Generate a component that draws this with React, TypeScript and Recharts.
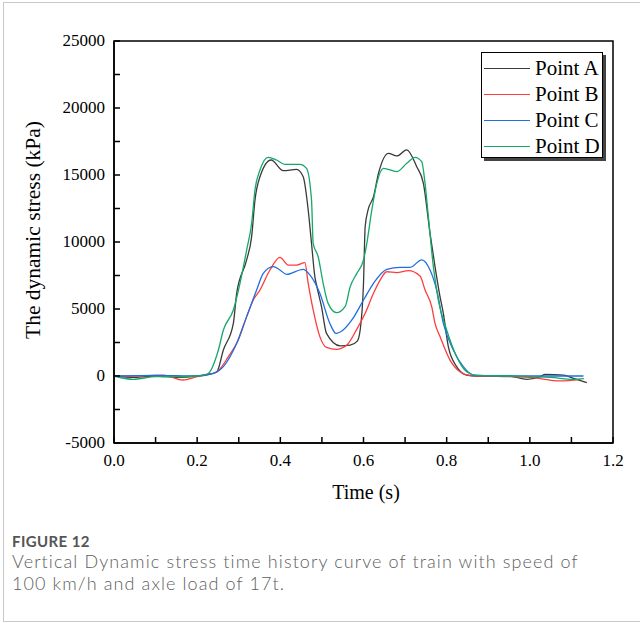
import React from "react";
import { LineChart, Line, XAxis, YAxis, ReferenceArea } from "recharts";

// Time (s) / stress (kPa), one pair of arrays per point
const timeA = [0, 0.05, 0.1, 0.15, 0.2, 0.22, 0.247, 0.263, 0.287, 0.295, 0.319, 0.331, 0.339, 0.351, 0.378, 0.407, 0.439, 0.455, 0.467, 0.475, 0.483, 0.488, 0.499, 0.511, 0.544, 0.568, 0.585, 0.592, 0.6, 0.604, 0.611, 0.624, 0.636, 0.66, 0.68, 0.704, 0.728, 0.744, 0.76, 0.772, 0.784, 0.792, 0.804, 0.824, 0.848, 0.87, 0.95, 0.993, 1.025, 1.037, 1.081, 1.105, 1.137];
const stressA = [0, -100, 0, -100, 0, 100, 300, 1940, 3930, 6170, 8660, 10400, 13130, 14870, 16120, 15320, 15420, 14870, 12390, 9900, 7410, 6660, 5170, 3180, 2250, 2300, 2600, 3430, 6920, 11140, 12390, 13380, 15120, 16620, 16420, 16870, 15620, 14380, 10650, 8160, 5920, 4680, 2190, 700, 70, 0, 0, -250, -50, 120, 70, -170, -500];

const timeB = [0, 0.05, 0.118, 0.166, 0.2, 0.225, 0.247, 0.275, 0.299, 0.319, 0.335, 0.351, 0.375, 0.399, 0.419, 0.439, 0.459, 0.467, 0.479, 0.495, 0.511, 0.535, 0.56, 0.584, 0.604, 0.624, 0.64, 0.656, 0.68, 0.708, 0.736, 0.748, 0.764, 0.772, 0.784, 0.808, 0.832, 0.856, 0.95, 1.0, 1.073, 1.121];
const stressB = [0, 0, 70, -300, -50, 100, 300, 1440, 2690, 4430, 5670, 6420, 7910, 8860, 8280, 8280, 8460, 6920, 4930, 2940, 2140, 1990, 2310, 3500, 4680, 6170, 7160, 7780, 7710, 7860, 7460, 6420, 5170, 3930, 2940, 1190, 320, 50, -50, -100, -370, -250];

const timeC = [0, 0.1, 0.2, 0.24, 0.263, 0.295, 0.319, 0.343, 0.359, 0.383, 0.399, 0.415, 0.455, 0.471, 0.495, 0.519, 0.534, 0.551, 0.572, 0.6, 0.624, 0.656, 0.688, 0.712, 0.74, 0.76, 0.776, 0.792, 0.816, 0.84, 0.864, 0.95, 1.05, 1.129];
const stressC = [0, 50, 0, 200, 700, 2440, 4430, 6420, 7660, 8160, 7910, 7590, 7960, 7540, 6170, 3930, 3180, 3430, 4180, 5670, 6920, 7960, 8110, 8110, 8660, 7910, 6420, 3930, 1940, 700, 70, 0, 0, 0];

const timeD = [0, 0.046, 0.1, 0.15, 0.2, 0.225, 0.251, 0.263, 0.287, 0.303, 0.319, 0.331, 0.339, 0.351, 0.371, 0.391, 0.411, 0.447, 0.463, 0.475, 0.479, 0.491, 0.503, 0.515, 0.535, 0.556, 0.568, 0.584, 0.6, 0.608, 0.62, 0.632, 0.648, 0.68, 0.704, 0.724, 0.74, 0.748, 0.756, 0.768, 0.78, 0.8, 0.824, 0.848, 0.872, 0.95, 1.0, 1.05, 1.105, 1.13];
const stressD = [0, -250, -50, -50, 0, 150, 1940, 3430, 4925, 6920, 9400, 11400, 13880, 15370, 16320, 16120, 15800, 15800, 15500, 13130, 9900, 8900, 6920, 5420, 4730, 5200, 6660, 7660, 8660, 9900, 12390, 14380, 15500, 15250, 15870, 16320, 15990, 14380, 11890, 8160, 5670, 3430, 1440, 320, 50, 0, -50, -100, -250, -200];

const seriesNames = ["Point A", "Point B", "Point C", "Point D"];
const seriesColors = ["#3a3a3a", "#ff3c3c", "#1f6fe0", "#14a86a"];

const xTicks = [0, 0.1, 0.2, 0.3, 0.4, 0.5, 0.6, 0.7, 0.8, 0.9, 1.0, 1.1, 1.2];
const yTicks = [-5000, -2500, 0, 2500, 5000, 7500, 10000, 12500, 15000, 17500, 20000, 22500, 25000];

const toRows = (t: number[], v: number[]) => t.map((x, i) => ({ t: x, v: v[i] }));
const series = [
  toRows(timeA, stressA),
  toRows(timeB, stressB),
  toRows(timeC, stressC),
  toRows(timeD, stressD),
];

const serif = "'Liberation Serif', 'Times New Roman', serif";

const XTick = (props: any) => {
  const { x, y, payload } = props;
  const major = Math.round(payload.value * 10) % 2 === 0;
  return (
    <g>
      <line x1={x} y1={y} x2={x} y2={y - 6} stroke="#000" strokeWidth={1.5} />
      {major && (
        <text x={x} y={y + 23} textAnchor="middle" fontFamily={serif} fontSize={17} fill="#000">
          {payload.value.toFixed(1)}
        </text>
      )}
    </g>
  );
};

const YTick = (props: any) => {
  const { x, y, payload } = props;
  const major = payload.value % 5000 === 0;
  return (
    <g>
      <line x1={x} y1={y} x2={x + 6} y2={y} stroke="#000" strokeWidth={1.5} />
      {major && (
        <text x={x - 9} y={y + 5} textAnchor="end" fontFamily={serif} fontSize={17} fill="#000">
          {payload.value}
        </text>
      )}
    </g>
  );
};

export default function App() {
  return (
    <div style={{ position: "absolute", left: 0, top: 0, width: 640, height: 623, overflow: "hidden", background: "#fff" }}>
      {/* card border */}
      <div
        style={{
          position: "absolute",
          left: 3,
          top: 2,
          width: 700,
          height: 620,
          border: "1px solid #c9c9c9",
          boxSizing: "border-box",
        }}
      />

      <div style={{ position: "absolute", left: 0, top: 0 }}>
        <LineChart width={640} height={470} margin={{ top: 41, right: 27, left: 54, bottom: 0 }}>
          <XAxis
            type="number"
            dataKey="t"
            domain={[0, 1.2]}
            ticks={xTicks}
            interval={0}
            height={27}
            tickSize={0}
            tickMargin={0}
            tickLine={false}
            tick={<XTick />}
            axisLine={{ stroke: "#000", strokeWidth: 1.5 }}
            allowDuplicatedCategory={false}
          />
          <YAxis
            type="number"
            domain={[-5000, 25000]}
            ticks={yTicks}
            interval={0}
            width={60}
            tickSize={0}
            tickMargin={0}
            tickLine={false}
            tick={<YTick />}
            axisLine={{ stroke: "#000", strokeWidth: 1.5 }}
          />
          <ReferenceArea
            x1={0}
            x2={1.2}
            y1={-5000}
            y2={25000}
            fill="none"
            stroke="#000"
            strokeWidth={1.5}
            ifOverflow="visible"
          />
          {series.map((rows, i) => (
            <Line
              key={seriesNames[i]}
              data={rows}
              dataKey="v"
              name={seriesNames[i]}
              type="monotone"
              stroke={seriesColors[i]}
              strokeWidth={1.3}
              dot={false}
              isAnimationActive={false}
            />
          ))}
        </LineChart>
      </div>

      {/* legend box */}
      <div
        style={{
          position: "absolute",
          left: 481,
          top: 52,
          width: 122,
          height: 106,
          border: "1.5px solid #000",
          boxShadow: "3px 3px 0 #444",
          background: "#fff",
          boxSizing: "border-box",
        }}
      >
        {seriesNames.map((name, i) => (
          <div
            key={name}
            style={{
              position: "absolute",
              left: 2,
              top: 3 + i * 26,
              height: 24,
              display: "flex",
              alignItems: "center",
            }}
          >
            <div style={{ width: 46, height: 0, borderTop: `1.3px solid ${seriesColors[i]}` }} />
            <span style={{ marginLeft: 5, fontFamily: serif, fontSize: 21, color: "#000", lineHeight: "24px" }}>
              {name}
            </span>
          </div>
        ))}
      </div>

      {/* axis titles */}
      <div
        style={{
          position: "absolute",
          left: 366,
          top: 481,
          transform: "translateX(-50%)",
          fontFamily: serif,
          fontSize: 20,
          whiteSpace: "nowrap",
        }}
      >
        Time (s)
      </div>
      <div
        style={{
          position: "absolute",
          left: 33,
          top: 230,
          transform: "translate(-50%, -50%) rotate(-90deg)",
          fontFamily: serif,
          fontSize: 21.5,
          whiteSpace: "nowrap",
        }}
      >
        The dynamic stress (kPa)
      </div>

      {/* caption */}
      <div
        style={{
          position: "absolute",
          left: 12,
          top: 532,
          fontFamily: "Lato, sans-serif",
          fontSize: 15,
          fontWeight: 700,
          letterSpacing: 0.4,
          lineHeight: "18px",
          color: "#555",
        }}
      >
        FIGURE 12
      </div>
      <div
        style={{
          position: "absolute",
          left: 12,
          top: 551,
          width: 620,
          fontFamily: "Lato, sans-serif",
          fontSize: 18,
          fontWeight: 300,
          letterSpacing: 1.1,
          lineHeight: "21.6px",
          color: "#606060",
          whiteSpace: "nowrap",
        }}
      >
        Vertical Dynamic stress time history curve of train with speed of
        <br />
        100 km/h and axle load of 17t.
      </div>
    </div>
  );
}
